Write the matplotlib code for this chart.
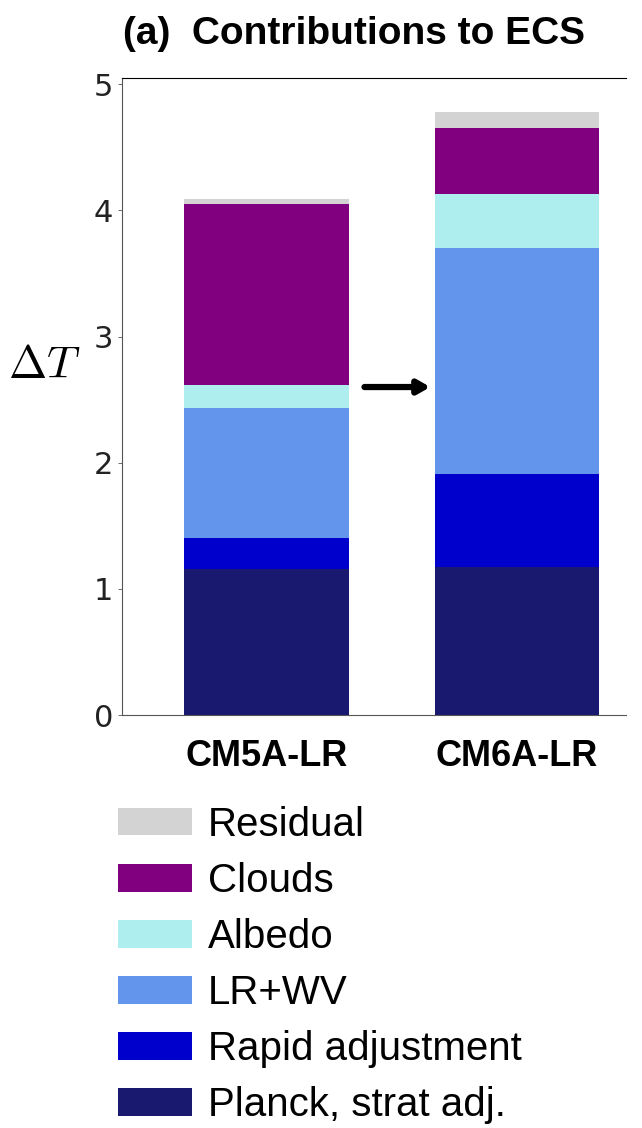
import matplotlib
matplotlib.use("Agg")
import matplotlib.pyplot as plt
import numpy as np

models = ["CM5A-LR", "CM6A-LR"]
components = ["Planck, strat adj.", "Rapid adjustment", "LR+WV", "Albedo", "Clouds", "Residual"]
colors = ["midnightblue", "mediumblue", "cornflowerblue", "paleturquoise", "purple", "lightgray"]

planck = [1.16, 1.17]
rapid = [0.24, 0.74]
lr_wv = [1.03, 1.79]
albedo = [0.19, 0.43]
clouds = [1.43, 0.52]
residual = [0.04, 0.13]

series = [planck, rapid, lr_wv, albedo, clouds, residual]

plt.rcParams["font.family"] = ["Liberation Sans", "DejaVu Sans"]
plt.rcParams["mathtext.fontset"] = "cm"

fig = plt.figure(figsize=(6.42, 11.28), dpi=100)
ax = fig.add_axes([0.19, 0.366, 0.785, 0.565])

x = np.arange(len(models))
bottom = np.zeros(len(models))
handles = []
for vals, name, col in zip(series, components, colors):
    b = ax.bar(x, vals, width=0.655, bottom=bottom, color=col, label=name)
    handles.append(b)
    bottom += np.array(vals)

# arrow between the bars
ax.annotate("", xy=(0.665, 2.6), xytext=(0.38, 2.6),
            arrowprops=dict(arrowstyle="-|>,head_length=0.7,head_width=0.4", color="black", lw=4.5))

ax.set_xlim(-0.577, 1.435)
ax.set_ylim(0, 5.05)
ax.set_yticks(range(6))
ax.set_xticks(x)
ax.set_xticklabels(models, fontsize=26, fontweight="bold")
ax.tick_params(axis="x", length=0, pad=17)
ax.tick_params(axis="y", labelsize=22, length=3, width=0.6, colors="#555555", labelcolor="#222222")
for lab in ax.get_yticklabels():
    lab.set_family("DejaVu Sans")
ax.spines["right"].set_visible(False)
for s in ["left", "bottom", "top"]:
    ax.spines[s].set_linewidth(0.8)
ax.spines["left"].set_color("#555555")
ax.spines["bottom"].set_color("#555555")

ax.set_ylabel(r"$\Delta T$", fontsize=33, rotation=0, ha="center", va="center")
ax.yaxis.set_label_coords(-0.155, 0.548)

ax.set_title("(a)  Contributions to ECS", fontsize=28, fontweight="bold", pad=24, x=0.46)

fig.legend(handles[::-1], components[::-1], loc="upper left", bbox_to_anchor=(0.158, 0.3),
           frameon=False, fontsize=29, handlelength=1.85, handleheight=0.68,
           labelspacing=0.45, handletextpad=0.4, borderaxespad=0)

fig.savefig("out.png", dpi=100)
